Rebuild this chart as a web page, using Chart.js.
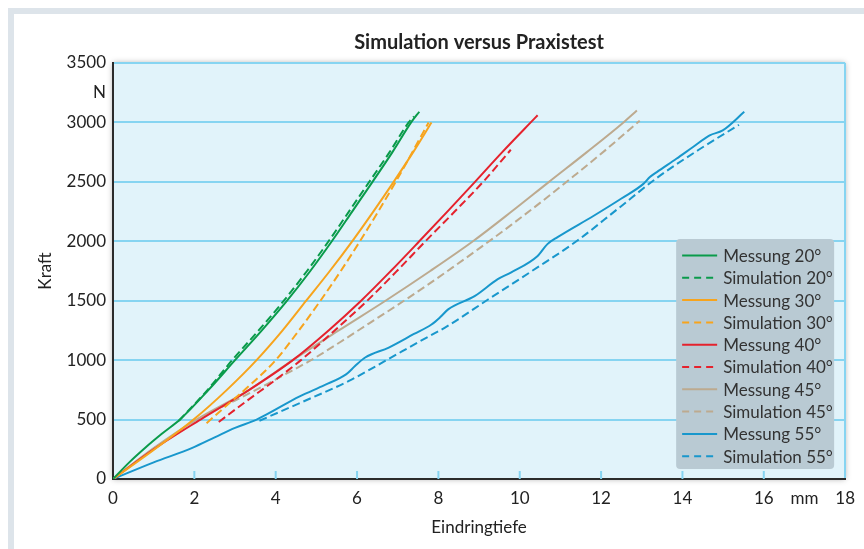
<!DOCTYPE html>
<html>
<head>
<meta charset="utf-8">
<script src="https://cdn.jsdelivr.net/npm/chart.js@4"></script>
<style>
  html, body { margin: 0; padding: 0; background: #fff; }
  #frame { position: absolute; left: 8px; top: 8px; width: 900px; height: 600px;
           border-left: 6px solid #dde4ea; border-top: 6px solid #dde4ea; }
  #wrap { position: absolute; left: 0; top: 0; width: 864px; height: 549px; }
</style>
</head>
<body>
<div id="frame"></div>
<div id="wrap"><canvas id="chart" width="864" height="549"></canvas></div>
<script>
// Eindringtiefe in mm / Kraft in N
const mess20X = [0, 0.4, 0.8, 1.2, 1.66, 2.35, 3.0, 3.66, 4.28, 4.85, 5.38, 5.88, 6.38, 6.87, 7.33, 7.53];
const mess20Y = [0, 140, 265, 380, 505, 750, 1000, 1250, 1500, 1750, 2000, 2250, 2500, 2750, 3000, 3090];
const sim20X = [1.62, 2.3, 2.93, 3.58, 4.2, 4.77, 5.3, 5.8, 6.3, 6.8, 7.27, 7.4];
const sim20Y = [490, 740, 1000, 1250, 1500, 1750, 2000, 2250, 2500, 2750, 3000, 3050];

const mess30X = [0, 1.0, 1.98, 2.8, 3.53, 4.17, 4.75, 5.33, 5.88, 6.4, 6.9, 7.38, 7.83];
const mess30Y = [0, 245, 500, 750, 1000, 1250, 1500, 1750, 2000, 2250, 2500, 2750, 3000];
const sim30X = [2.3, 2.8, 3.4, 4.0, 4.57, 5.1, 5.6, 6.07, 6.52, 6.95, 7.36, 7.76];
const sim30Y = [470, 620, 800, 1000, 1250, 1500, 1750, 2000, 2250, 2500, 2750, 3000];

const mess40X = [0, 1.0, 2.15, 3.35, 4.42, 5.3, 6.1, 6.83, 7.53, 8.22, 8.9, 9.57, 10.27, 10.44];
const mess40Y = [0, 250, 500, 750, 1000, 1250, 1500, 1750, 2000, 2250, 2500, 2750, 3000, 3060];
const sim40X = [2.6, 3.3, 4.0, 4.62, 5.45, 6.25, 6.98, 7.68, 8.4, 9.1, 9.78];
const sim40Y = [480, 660, 835, 1000, 1250, 1500, 1750, 2000, 2250, 2500, 2770];

const mess45X = [0, 1.0, 2.05, 3.3, 4.42, 5.55, 6.7, 7.8, 8.85, 9.8, 10.72, 11.65, 12.55, 12.88];
const mess45Y = [0, 260, 500, 740, 1000, 1250, 1500, 1750, 2000, 2250, 2500, 2750, 3000, 3100];
const sim45X = [2.4, 3.0, 3.6, 4.2, 4.87, 5.6, 6.3, 7.0, 7.7, 8.35, 8.98, 9.8, 10.6, 11.35, 12.1, 12.95];
const sim45Y = [560, 660, 765, 875, 1000, 1155, 1310, 1465, 1625, 1780, 1934, 2140, 2350, 2555, 2765, 3015];

const mess55X = [0, 1.0, 1.95, 2.5, 3.0, 3.53, 4.59, 5.2, 5.73, 5.95, 6.2, 6.78, 7.4, 7.83, 8.04, 8.24, 8.9,
                 9.46, 9.78, 10.44, 10.68, 10.93, 11.82, 12.5, 13.04, 13.2, 13.37, 13.85, 14.26, 14.67, 14.99, 15.52];
const mess55Y = [0, 140, 262, 350, 430, 500, 695, 790, 880, 950, 1022, 1106, 1220, 1300, 1360, 1427, 1540,
                 1681, 1737, 1877, 1976, 2035, 2215, 2360, 2483, 2540, 2582, 2694, 2793, 2891, 2933, 3089];
const sim55X = [3.6, 4.6, 5.8, 6.7, 7.5, 8.24, 9.22, 10.3, 11.41, 12.4, 13.4, 14.4, 15.39];
const sim55Y = [490, 640, 825, 995, 1150, 1290, 1510, 1750, 2004, 2270, 2540, 2770, 2980];

const seriesLabels = ['Messung 20°', 'Simulation 20°', 'Messung 30°', 'Simulation 30°', 'Messung 40°',
                      'Simulation 40°', 'Messung 45°', 'Simulation 45°', 'Messung 55°', 'Simulation 55°'];
const seriesX = [mess20X, sim20X, mess30X, sim30X, mess40X, sim40X, mess45X, sim45X, mess55X, sim55X];
const seriesY = [mess20Y, sim20Y, mess30Y, sim30Y, mess40Y, sim40Y, mess45Y, sim45Y, mess55Y, sim55Y];
const seriesColors = ['#0a9b4b', '#0a9b4b', '#f7a41d', '#f7a41d', '#e5222d', '#e5222d',
                      '#bdaa8f', '#bdaa8f', '#1897cc', '#1897cc'];

const gridBlue = '#86d4f1';
const textColor = '#222';

Chart.defaults.font.family = 'Lato, "Open Sans", sans-serif';
Chart.defaults.font.size = 17;
Chart.defaults.color = textColor;

const datasets = seriesLabels.map((label, i) => ({
    label: label,
    data: seriesX[i].map((x, j) => ({x: x, y: seriesY[i][j]})),
    borderColor: seriesColors[i],
    backgroundColor: seriesColors[i],
    borderWidth: 2,
    borderDash: label.startsWith('Simulation') ? [8, 4] : [],
    pointRadius: 0,
    fill: false,
    cubicInterpolationMode: 'monotone',
}));

// light blue plot area with a soft shadow
const plotBackground = {
    id: 'plotBackground',
    beforeDraw(chart) {
        const {ctx, chartArea: a} = chart;
        ctx.save();
        ctx.shadowColor = 'rgba(0,0,0,0.35)';
        ctx.shadowBlur = 6;
        ctx.fillStyle = '#e1f3fa';
        ctx.fillRect(a.left, a.top, a.right - a.left, a.bottom - a.top);
        ctx.restore();
    },
    beforeDatasetsDraw(chart) {
        // short tick marks inside the plot on the x axis
        const {ctx, chartArea: a, scales} = chart;
        ctx.save();
        ctx.strokeStyle = gridBlue;
        ctx.lineWidth = 2;
        for (let v = 2; v <= 16; v += 2) {
            const px = scales.x.getPixelForValue(v);
            ctx.beginPath();
            ctx.moveTo(px, a.bottom);
            ctx.lineTo(px, a.bottom - 8);
            ctx.stroke();
        }
        ctx.restore();
    }
};

// legend box inside the chart area, bottom right
const boxLegend = {
    id: 'boxLegend',
    afterDraw(chart) {
        const {ctx, chartArea: a} = chart;
        const w = 158, h = 230;
        const left = a.right - 11 - w;
        const top = a.bottom - 10 - h;
        ctx.save();
        ctx.fillStyle = '#b9cad3';
        ctx.beginPath();
        ctx.roundRect(left, top, w, h, 4);
        ctx.fill();
        ctx.font = '17px Lato, "Open Sans", sans-serif';
        ctx.textBaseline = 'middle';
        ctx.fillStyle = '#333';
        chart.data.datasets.forEach((ds, i) => {
            const y = top + 16.5 + i * 22.3;
            ctx.strokeStyle = ds.borderColor;
            ctx.lineWidth = 2;
            ctx.setLineDash(ds.borderDash.length ? [7, 5] : []);
            ctx.beginPath();
            ctx.moveTo(left + 6, y);
            ctx.lineTo(left + 41, y);
            ctx.stroke();
            ctx.setLineDash([]);
            ctx.fillText(ds.label, left + 47, y + 1);
        });
        ctx.restore();
    }
};

new Chart(document.getElementById('chart'), {
    type: 'line',
    data: {datasets: datasets},
    plugins: [plotBackground, boxLegend],
    options: {
        responsive: false,
        animation: false,
        devicePixelRatio: 1,
        layout: {padding: {left: 0, right: 14, top: 0, bottom: 0}},
        plugins: {
            legend: {display: false},
            tooltip: {enabled: false},
            title: {
                display: true,
                fullSize: false,
                text: 'Simulation versus Praxistest',
                color: textColor,
                font: {size: 20, weight: 'bold'},
                padding: {top: 31, bottom: 8}
            }
        },
        scales: {
            x: {
                type: 'linear',
                min: 0,
                max: 18,
                ticks: {
                    stepSize: 1,
                    autoSkip: false,
                    maxRotation: 0,
                    padding: 9,
                    color: textColor,
                    callback: v => v % 2 === 0 ? String(v) : (v === 17 ? 'mm' : '')
                },
                grid: {
                    drawTicks: false,
                    lineWidth: 2,
                    color: c => (c.tick && c.tick.value === 18) ? gridBlue : 'transparent'
                },
                border: {color: '#2b2b2b', width: 2},
                title: {display: true, text: 'Eindringtiefe', color: textColor, padding: {top: 4, bottom: 11}},
                afterFit: s => { s.height = 70; }
            },
            y: {
                min: 0,
                max: 3500,
                ticks: {
                    stepSize: 250,
                    autoSkip: false,
                    padding: 7,
                    color: textColor,
                    callback: v => v % 500 === 0 ? String(v) : (v === 3250 ? 'N' : '')
                },
                grid: {
                    drawTicks: false,
                    lineWidth: 2,
                    color: c => (c.tick && c.tick.value % 500 === 0) ? gridBlue : 'transparent'
                },
                border: {color: '#2b2b2b', width: 2},
                title: {display: true, text: 'Kraft', color: textColor, padding: {top: 35, bottom: 0}},
                afterFit: s => { s.width = 113; }
            }
        }
    }
});
</script>
</body>
</html>
